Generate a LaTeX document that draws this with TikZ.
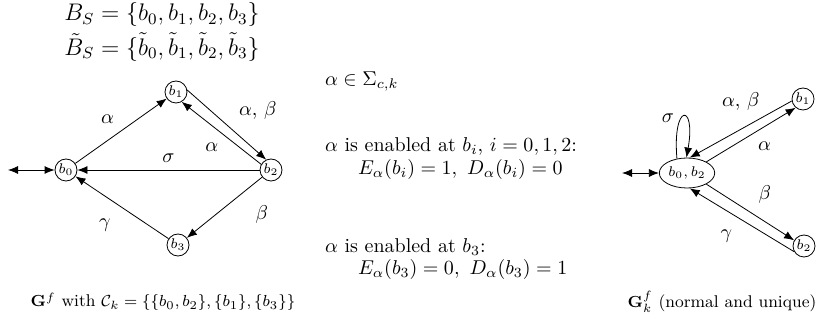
\documentclass[tikz,border=0pt]{standalone}
\usepackage{amsmath}
\usepackage{amssymb}
\usetikzlibrary{arrows.meta,shapes.geometric,positioning}

\begin{document}
\begin{tikzpicture}[x=0.5pt,y=-0.5pt,
    state/.style={draw,circle,inner sep=0.5pt,minimum size=11pt,font=\scriptsize},
    merged/.style={draw,ellipse,inner sep=0.5pt,minimum width=22pt,minimum height=15pt,font=\scriptsize},
    trans/.style={-{Latex[length=5pt,width=4pt]}},
    initarr/.style={{Latex[length=5pt,width=4pt]}-{Latex[length=5pt,width=4pt]}},
    caption/.style={font=\fontsize{8.5pt}{10pt}\selectfont,inner sep=0pt},
    setline/.style={font=\large,inner sep=0pt}]
        \useasboundingbox (0,0) rectangle (817,325);
        % sets of states
        \node[setline] (bset) at (162,15) {$B_S=\{b_0,b_1,b_2,b_3\}$};
        \node[setline] (btset) at (162,47) {$\tilde{B}_S=\{\tilde{b}_0,\tilde{b}_1,\tilde{b}_2,\tilde{b}_3\}$};
        % G^f
        \node[state] (b0) at (66,170) {$b_0$};
        \node[state] (b1) at (176,92) {$b_1$};
        \node[state] (b2) at (271,170) {$b_2$};
        \node[state] (b3) at (178,245) {$b_3$};
        \coordinate (start) at (8,170);
        \draw[initarr] (start) -- (b0);
        \draw[trans] (b0) -- node[midway,above left=0pt] {$\alpha$} (b1);
        \draw[trans] (b1.10) -- node[pos=0.55,above right=1pt] {$\alpha,\,\beta$} (b2.115);
        \draw[trans] (b2.150) -- node[pos=0.45,below left=0pt] {$\alpha$} (b1.-60);
        \draw[trans] (b2) -- node[midway,above] {$\sigma$} (b0);
        \draw[trans] (b2) -- node[midway,right=12pt,yshift=-3.5pt] {$\beta$} (b3);
        \draw[trans] (b3) -- node[midway,below left=3pt] {$\gamma$} (b0);
        \node[caption] (capl) at (163,302) {$\mathbf{G}^f$ with $\mathcal{C}_k=\{\{b_0,b_2\},\{b_1\},\{b_3\}\}$};
        % enabling conditions
        \node[anchor=west] (sig) at (318,82) {$\alpha\in\Sigma_{c,k}$};
        \node[anchor=west] (en1) at (318,147) {$\alpha$ is enabled at $b_i$, $i=0,1,2$:};
        \node[anchor=west] (ed1) at (351,170) {$E_\alpha(b_i)=1,\ D_\alpha(b_i)=0$};
        \node[anchor=west] (en2) at (318,247) {$\alpha$ is enabled at $b_3$:};
        \node[anchor=west] (ed2) at (351,270) {$E_\alpha(b_3)=0,\ D_\alpha(b_3)=1$};
        % G^f_k
        \node[merged] (bb) at (687,173) {$b_0,b_2$};
        \node[state] (c1) at (803,99) {$b_1$};
        \node[state] (c2) at (804,246) {$b_2$};
        \coordinate (startk) at (622,173);
        \draw[initarr] (startk) -- (bb);
        \draw[trans] (bb.125) .. controls +(95:28pt) and +(80:28pt) .. (bb.92)
            node[pos=0.4,left=0pt] {$\sigma$};
        \draw[trans] (c1.190) -- node[midway,above=6pt] {$\alpha,\,\beta$} (bb.80);
        \draw[trans] (bb.30) -- node[midway,below right=0pt] {$\alpha$} (c1.230);
        \draw[trans] (bb.-30) -- node[midway,above right=1pt] {$\beta$} (c2.150);
        \draw[trans] (c2.210) -- node[midway,below left=2pt] {$\gamma$} (bb.-80);
        \node[caption] (capr) at (722,302) {$\mathbf{G}^f_k$ (normal and unique)};
\end{tikzpicture}
\end{document}
